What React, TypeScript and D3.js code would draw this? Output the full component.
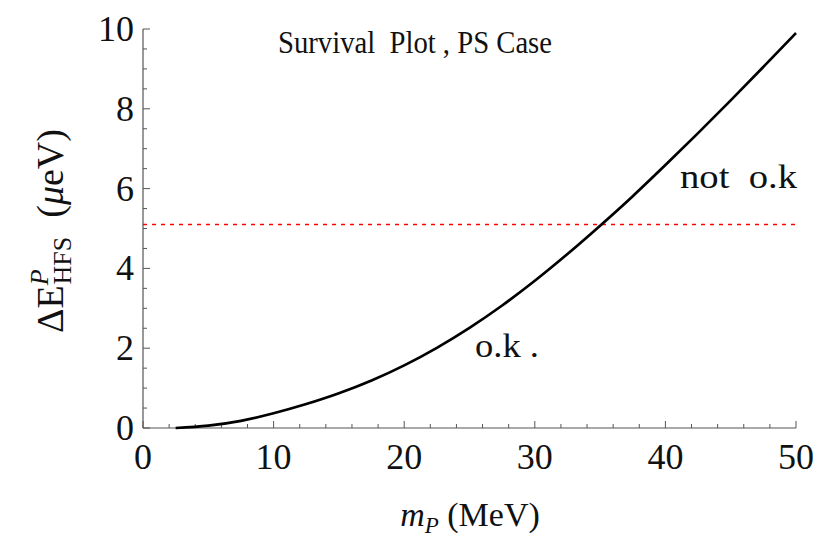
import React from "react";
import * as d3 from "d3";

const massMeV = [2.5, 5, 7.5, 10, 12.5, 15, 17.5, 20, 22.5, 25, 27.5, 30, 32.5, 35, 37.5, 40, 42.5, 45, 47.5, 50];
const deltaE = [0, 0.06, 0.18, 0.37, 0.6, 0.87, 1.19, 1.57, 2.01, 2.51, 3.07, 3.69, 4.36, 5.07, 5.81, 6.59, 7.39, 8.21, 9.05, 9.9];
const limitValue = 5.1;
const xTicks = [0, 10, 20, 30, 40, 50];
const yTicks = [0, 2, 4, 6, 8, 10];
const xMinor = d3.range(0, 50.01, 2);
const yMinor = d3.range(0, 10.01, 0.5);

const W = 826;
const H = 539;
const FONT = "Liberation Serif";

export default function App() {
  const x = d3.scaleLinear().domain([0, 50]).range([143, 796]);
  const y = d3.scaleLinear().domain([0, 10]).range([428, 29]);
  const line = d3
    .line<number>()
    .x((_, i) => x(massMeV[i]))
    .y((d) => y(d))
    .curve(d3.curveMonotoneX);
  const axisColor = "#555";
  return (
    <svg width={W} height={H} style={{ position: "absolute", left: 0, top: 0, background: "#fff" }}>
      <rect x={0} y={0} width={W} height={H} fill="#fff" />
      <line x1={x(0)} x2={x(50)} y1={y(0)} y2={y(0)} stroke={axisColor} strokeWidth={1.2} />
      <line x1={x(0)} x2={x(0)} y1={y(0)} y2={y(10)} stroke={axisColor} strokeWidth={1.2} />
      {xMinor.map((v) => {
        const major = Math.abs(v % 10) < 1e-6;
        return (
          <line key={"xm" + v} x1={x(v)} x2={x(v)} y1={y(0)} y2={y(0) - (major ? 7 : 4)} stroke={axisColor} strokeWidth={1} />
        );
      })}
      {yMinor.map((v) => {
        const major = Math.abs(v % 2) < 1e-6;
        return (
          <line key={"ym" + v} x1={x(0)} x2={x(0) + (major ? 7 : 4)} y1={y(v)} y2={y(v)} stroke={axisColor} strokeWidth={1} />
        );
      })}
      {xTicks.map((v) => (
        <text key={"xt" + v} x={x(v)} y={469} textAnchor="middle" fontSize={36} fill="#111" fontFamily={FONT}>
          {v}
        </text>
      ))}
      {yTicks.map((v) => (
        <text key={"yt" + v} x={134} y={y(v) + 12} textAnchor="end" fontSize={36} fill="#111" fontFamily={FONT}>
          {v}
        </text>
      ))}
      <line x1={x(0)} x2={x(50)} y1={y(limitValue)} y2={y(limitValue)} stroke="#f00" strokeWidth={1.6} strokeDasharray="4,5" />
      <path d={line(deltaE) || ""} fill="none" stroke="#000" strokeWidth={2.7} />
      <text x={278} y={53} fontSize={31} fill="#111" fontFamily={FONT} textLength={274} lengthAdjust="spacingAndGlyphs">
        {"Survival\u00a0\u00a0Plot , PS Case"}
      </text>
      <text x={680} y={188} fontSize={34} fill="#111" fontFamily={FONT} textLength={117} lengthAdjust="spacingAndGlyphs">
        {"not\u00a0\u00a0o.k"}
      </text>
      <text x={475} y={357} fontSize={34} fill="#111" fontFamily={FONT} textLength={64} lengthAdjust="spacingAndGlyphs">
        {"o.k ."}
      </text>
      <text x={470} y={526} textAnchor="middle" fontSize={34} fill="#111" fontFamily={FONT}>
        <tspan fontStyle="italic">m</tspan>
        <tspan fontStyle="italic" fontSize={23} dy={7}>P</tspan>
        <tspan dy={-7}>{" (MeV)"}</tspan>
      </text>
      <text transform="translate(63,231) rotate(-90)" textAnchor="middle" fontSize={38} fill="#111" fontFamily={FONT}>
        <tspan>ΔE</tspan>
        <tspan fontStyle="italic" fontSize={26} dy={-15}>P</tspan>
        <tspan fontSize={26} dx={-15} dy={23}>HFS</tspan>
        <tspan dy={-8}>{"\u00a0\u00a0("}</tspan>
        <tspan fontStyle="italic">μ</tspan>
        <tspan>eV)</tspan>
      </text>
    </svg>
  );
}
